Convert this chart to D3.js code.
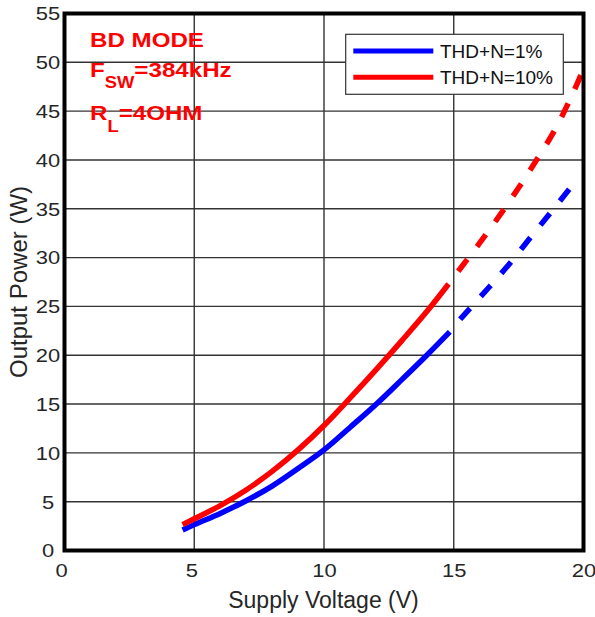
<!DOCTYPE html>
<html>
<head>
<meta charset="utf-8">
<script src="https://cdn.jsdelivr.net/npm/d3@7"></script>
<style>
  html, body { margin: 0; padding: 0; background: #fff; }
  svg { display: block; }
  text { font-family: "Liberation Sans", Arial, Helvetica, sans-serif; }
</style>
</head>
<body>
<svg id="chart" width="595" height="617"></svg>
<script>
// ---- data ----
const xTicks = [0, 5, 10, 15, 20];
const yTicks = [0, 5, 10, 15, 20, 25, 30, 35, 40, 45, 50, 55];

const blueSolidX = [4.55, 5, 6, 7, 8, 9, 10, 11, 12, 13, 14, 14.85];
const blueSolidY = [2.1, 2.65, 3.8, 5.1, 6.6, 8.4, 10.3, 12.6, 14.95, 17.5, 20.1, 22.4];
const blueDashX = [14.85, 15, 16, 17, 18, 19, 19.6];
const blueDashY = [22.4, 22.9, 25.9, 28.9, 32.2, 35.5, 37.5];

const redSolidX = [4.55, 5, 6, 7, 8, 9, 10, 11, 12, 13, 14, 14.8];
const redSolidY = [2.65, 3.25, 4.6, 6.2, 8.1, 10.3, 12.8, 15.6, 18.5, 21.5, 24.6, 27.3];
const redDashX = [14.8, 15, 16, 17, 18, 19, 19.5, 20];
const redDashY = [27.3, 28.0, 31.5, 35.2, 39.2, 43.6, 46.3, 49.3];

const legendLabels = ["THD+N=1%", "THD+N=10%"];
const seriesColors = ["#0000ff", "#ff0000"];

// ---- layout ----
const svg = d3.select("#chart");
const x = d3.scaleLinear().domain([0, 20]).range([64.5, 583.5]);
const y = d3.scaleLinear().domain([0, 55]).range([550.5, 13.5]);
const textCol = "#262626";

// grid
const grid = svg.append("g");
grid.selectAll("line.v").data(xTicks.filter(d => d > 0 && d < 20)).join("line")
  .attr("x1", d => x(d)).attr("x2", d => x(d))
  .attr("y1", y(0)).attr("y2", y(55))
  .attr("stroke", "#333").attr("stroke-width", 1.4);
grid.selectAll("line.h").data(yTicks.filter(d => d > 0 && d < 55)).join("line")
  .attr("y1", d => y(d)).attr("y2", d => y(d))
  .attr("x1", x(0)).attr("x2", x(20))
  .attr("stroke", "#333").attr("stroke-width", 1.4);

// annotation text
function ann(xp, yp, parts) {
  const t = svg.append("text")
    .attr("transform", `translate(${xp},${yp}) scale(1.15,1)`)
    .attr("fill", "#ff0000").attr("font-weight", "bold").attr("font-size", 21);
  let prevDy = 0;
  parts.forEach(p => {
    const dy = p.sub ? 11.5 : 0;
    t.append("tspan").attr("dy", dy - prevDy).attr("font-size", p.sub ? 16 : 21).text(p.t);
    prevDy = dy;
  });
}
ann(90, 46.7, [{t: "BD MODE"}]);
ann(90, 76.7, [{t: "F"}, {t: "SW", sub: true}, {t: "=384kHz"}]);
ann(90, 120, [{t: "R"}, {t: "L", sub: true}, {t: "=4OHM"}]);

// lines
const line = d3.line().x(d => x(d[0])).y(d => y(d[1])).curve(d3.curveMonotoneX);
const zip = (a, b) => a.map((v, i) => [v, b[i]]);
const curves = [
  {xs: blueSolidX, ys: blueSolidY, c: seriesColors[0], dash: false},
  {xs: redSolidX, ys: redSolidY, c: seriesColors[1], dash: false},
  {xs: blueDashX, ys: blueDashY, c: seriesColors[0], dash: true},
  {xs: redDashX, ys: redDashY, c: seriesColors[1], dash: true}
];
svg.append("defs").append("clipPath").attr("id", "clip")
  .append("rect").attr("x", x(0)).attr("y", y(55)).attr("width", x(20) - x(0)).attr("height", y(0) - y(55));
const lg = svg.append("g").attr("clip-path", "url(#clip)");
curves.forEach(cv => {
  const p = lg.append("path").attr("d", line(zip(cv.xs, cv.ys)))
    .attr("fill", "none").attr("stroke", cv.c).attr("stroke-width", 5.5);
  if (cv.dash) p.attr("stroke-dasharray", "15,16").attr("stroke-dashoffset", 15);
});

// legend
const leg = svg.append("g");
leg.append("rect").attr("x", 345.7).attr("y", 34.3).attr("width", 217.6).attr("height", 60)
  .attr("fill", "#fff").attr("stroke", "#333").attr("stroke-width", 1.2);
legendLabels.forEach((lab, i) => {
  const ly = 51 + i * 26.3;
  leg.append("line").attr("x1", 353.3).attr("x2", 433.3).attr("y1", ly).attr("y2", ly)
    .attr("stroke", seriesColors[i]).attr("stroke-width", 5);
  leg.append("text").attr("x", 440).attr("y", ly + 6.5).attr("font-size", 19)
    .attr("fill", "#111").text(lab);
});

// frame
svg.append("rect").attr("x", x(0)).attr("y", y(55))
  .attr("width", x(20) - x(0)).attr("height", y(0) - y(55))
  .attr("fill", "none").attr("stroke", "#000").attr("stroke-width", 4);

// axes
const xAxis = svg.append("g").attr("transform", `translate(0,${y(0)})`)
  .call(d3.axisBottom(x).tickValues(xTicks).tickSize(0).tickFormat(d3.format("d")));
xAxis.select(".domain").remove();
xAxis.selectAll("text").attr("y", 0).attr("dy", 0)
  .attr("transform", d => `translate(${d === 0 ? -3.5 : d === 5 ? -3 : 0},26.5) scale(1.22,1)`)
  .attr("font-size", 18).attr("fill", textCol).attr("font-family", null);

const yAxis = svg.append("g").attr("transform", `translate(${x(0)},0)`)
  .call(d3.axisLeft(y).tickValues(yTicks).tickSize(0).tickFormat(d3.format("d")));
yAxis.select(".domain").remove();
yAxis.selectAll("text").attr("x", 0).attr("dy", 0).attr("text-anchor", "middle")
  .attr("transform", "translate(-16.5,6.4) scale(1.22,1)")
  .attr("font-size", 18).attr("fill", textCol).attr("font-family", null);

// axis titles
svg.append("text").attr("x", 323.5).attr("y", 608).attr("text-anchor", "middle")
  .attr("font-size", 23).attr("fill", textCol).text("Supply Voltage (V)");
svg.append("text").attr("transform", "translate(27,282) rotate(-90)").attr("text-anchor", "middle")
  .attr("font-size", 24).attr("fill", textCol).text("Output Power (W)");
</script>
</body>
</html>
